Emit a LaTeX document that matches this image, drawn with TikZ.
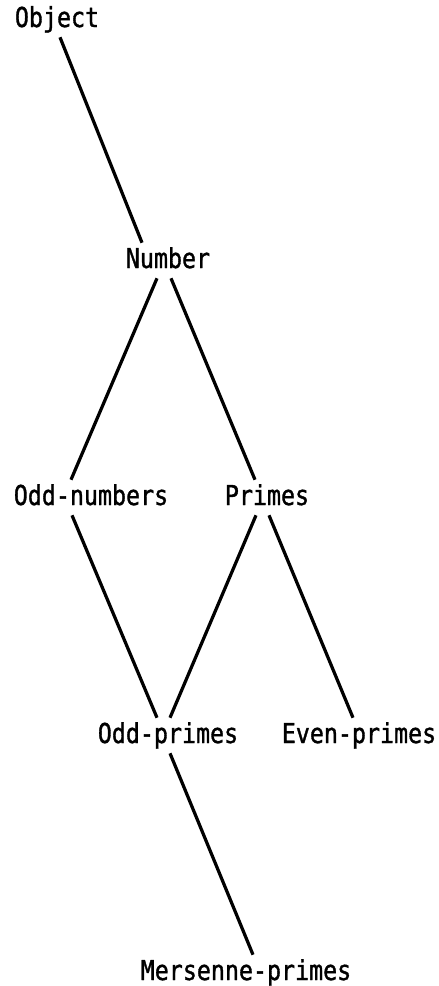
\documentclass[tikz,border=0pt]{standalone}
\usepackage{fontspec}
\newfontfamily\plotfont[FakeStretch=0.85,FakeBold=1.2]{DejaVu Sans Mono}

\begin{document}
\begin{tikzpicture}[x=0.025cm, y=-0.025cm,
  cls/.style={inner sep=0pt, anchor=base, text height=0.625cm, text depth=0.25cm,
    font=\plotfont\fontsize{19.5}{21}\selectfont},
  link/.style={line width=2.3pt}]
\useasboundingbox (0,0) rectangle (439,986);
% Classes, placed on their baselines
\node[cls] (ob)  at (57,27)   {Object};
\node[cls] (nb)  at (168,268) {Number};
\node[cls] (odd) at (91,505)  {Odd-numbers};
\node[cls] (pr)  at (267,505) {Primes};
\node[cls] (op)  at (168,743) {Odd-primes};
\node[cls] (ep)  at (359,743) {Even-primes};
\node[cls] (mp)  at (246,980) {Mersenne-primes};
% Links: parent / x offset / child / x offset
\foreach \s/\ds/\t/\dt in {ob/3/nb/-26, nb/-11/odd/-20, nb/3/pr/-12,
    odd/-19/op/-11, pr/-11/op/2, pr/2/ep/-6, op/2/mp/7} {
  \draw[link] ([shift={(\ds,0)}]\s.south) -- ([shift={(\dt,0)}]\t.north);
}
\end{tikzpicture}
\end{document}
